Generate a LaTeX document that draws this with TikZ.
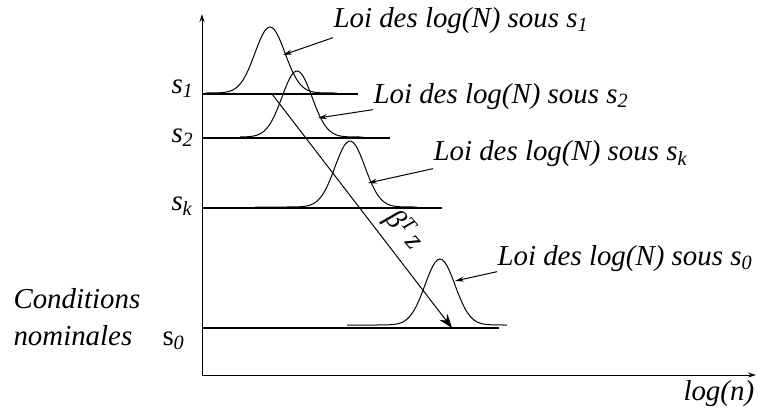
\documentclass[tikz,border=0pt]{standalone}
\usepackage{fontspec}
\setmainfont{Liberation Serif}
\usetikzlibrary{arrows.meta}

\tikzset{
  lbl/.style={inner sep=0pt,anchor=base west,font=\fontsize{29}{33}\selectfont\itshape},
  level/.style={line width=1.3bp},
  pointer/.style={line width=1bp,-{Stealth[length=9bp,width=5bp]}},
}

\begin{document}
\begin{tikzpicture}[x=1bp,y=-1bp,line width=1bp]
  \useasboundingbox (0,0) rectangle (758,408);
  % axes
  \coordinate (origin) at (202,375);
  \coordinate (ytop) at (202,14);
  \coordinate (xend) at (756,375);
  \draw[-{Stealth[length=8bp,width=5bp]}] (origin) -- (ytop);
  \draw[-{Stealth[length=8bp,width=5bp]}] (origin) -- (xend);
  \node[lbl] (logn) at (683,400) {log(n)};
  % levels s_1, s_2, s_k, s_0
  \foreach \n/\h/\e in {1/94/358, 2/138/390, k/208/442, 0/328/499}
    \draw[level] (202,\h) coordinate (lev\n) -- (\e,\h);
  \node[lbl] (s1) at (171,93) {s\textsubscript{1}};
  \node[lbl] (s2) at (171,142) {s\textsubscript{2}};
  \node[lbl] (sk) at (171,210) {s\textsubscript{k}};
  \node[lbl] (s0) at (162,345) {{\upshape s}\textsubscript{0}};
  \node[lbl] (cond) at (13,308) {Conditions};
  \node[lbl] (nomi) at (13,345) {nominales};
  % densities
  \foreach \c/\b/\l/\r in {270/93/205/337, 297/137/240/363, 350/207/255/417, 440/325/347/507}
    \draw[smooth,samples=70,domain=\l:\r] plot (\x,{\b-66*exp(-((\x-\c)/15)^2/2)});
  % shift
  \coordinate (from) at (272,94);
  \coordinate (to) at (452,328);
  \draw[line width=1bp,-{Stealth[length=14bp,width=10bp]}] (from) -- (to);
  \node[lbl,anchor=center,rotate=-50] (bz) at (404,230) {β\textsuperscript{T}\,z};
  % labels
  \node[lbl] (loi1) at (333,27) {Loi des log(N) sous s\textsubscript{1}};
  \node[lbl] (loi2) at (373,103) {Loi des log(N) sous s\textsubscript{2}};
  \node[lbl] (loik) at (433,160) {Loi des log(N) sous s\textsubscript{k}};
  \node[lbl] (loi0) at (497,265) {Loi des log(N) sous s\textsubscript{0}};
  \coordinate (t1) at (283,55);
  \coordinate (t2) at (318,118);
  \coordinate (tk) at (368,183);
  \coordinate (t0) at (455,281);
  \draw[pointer] ([yshift=-4bp]loi1.south west) -- (t1);
  \draw[pointer] (loi2.south west) -- (t2);
  \draw[pointer] ([yshift=-2bp]loik.south west) -- (tk);
  \draw[pointer] (loi0.south west) -- (t0);
\end{tikzpicture}
\end{document}
